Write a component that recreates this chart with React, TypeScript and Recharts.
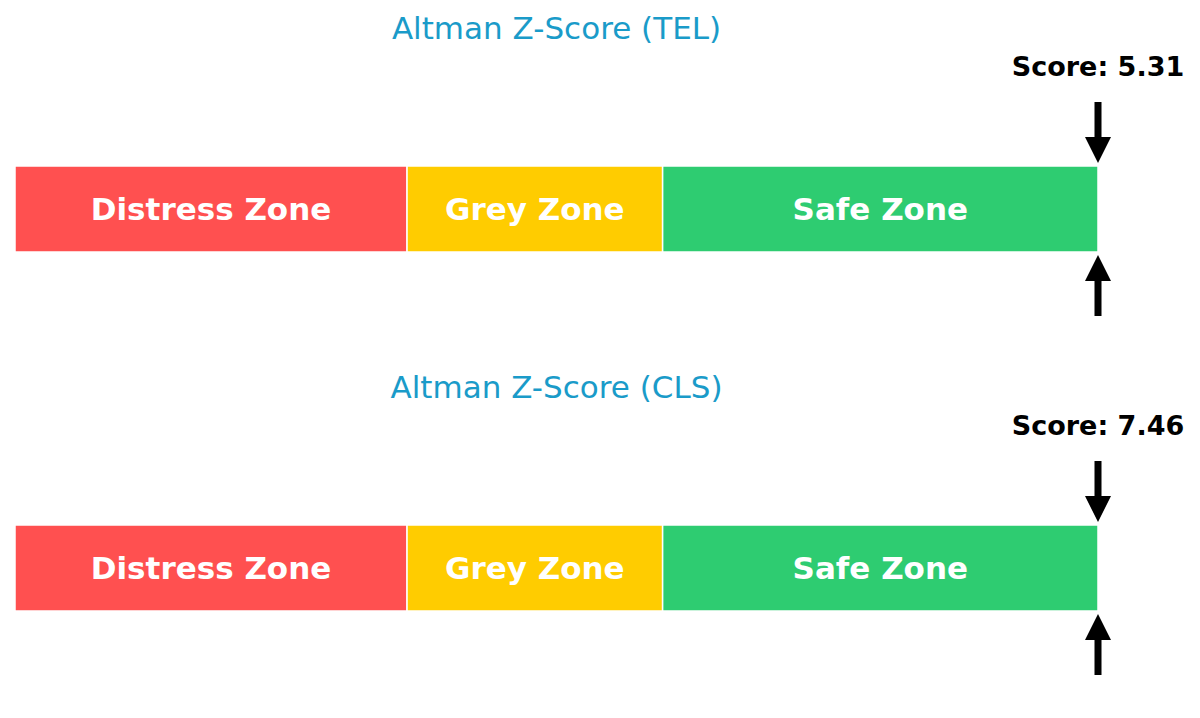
import React from 'react';
import { BarChart, Bar, XAxis, YAxis, LabelList, ReferenceDot } from 'recharts';

const companies = ['TEL', 'CLS'];
const scores = [5.31, 7.46];
const zoneNames = ['Distress Zone', 'Grey Zone', 'Safe Zone'];
const zoneBounds = [0, 1.81, 2.99, 5];
const zoneColors = ['#ff5050', '#ffcc00', '#2ecc71'];
const titleColor = '#1a9bc9';

const FONT = '"DejaVu Sans", sans-serif';
const W = 1200;
const H = 359;
const LEFT = 15;
const RIGHT = 102;
const BAR_TOP = 166;
const BAR_H = 86;
const PAD = 20;

const zoneKeys = ['z0', 'z1', 'z2'];

function buildRow(name: string) {
  const row: any = { name };
  zoneKeys.forEach((k, i) => {
    row[k] = zoneBounds[i + 1] - zoneBounds[i];
  });
  return row;
}

const zoneLabel = (text: string) => (props: any) => {
  const { x, y, width, height } = props;
  return (
    <text
      x={x + width / 2}
      y={y + height / 2}
      textAnchor="middle"
      dominantBaseline="central"
      fill="#ffffff"
      fontFamily={FONT}
      fontWeight="bold"
      fontSize={31}
    >
      {text}
    </text>
  );
};

const arrowShape = (score: number) => (props: any) => {
  const { cx, cy } = props;
  const half = BAR_H / 2;
  const headW = 13;
  const headL = 26;
  const shaft = 3.5;
  const downTip = cy - half - 3;
  const downTail = downTip - 61;
  const upTip = cy + half + 3;
  const upTail = upTip + 61;
  return (
    <g>
      <text
        x={cx}
        y={cy - 143}
        textAnchor="middle"
        dominantBaseline="central"
        fill="#000"
        fontFamily={FONT}
        fontWeight="bold"
        fontSize={27}
      >
        {`Score: ${score.toFixed(2)}`}
      </text>
      <polygon
        fill="#000"
        points={`${cx - shaft},${downTail} ${cx + shaft},${downTail} ${cx + shaft},${downTip - headL} ${cx + headW},${downTip - headL} ${cx},${downTip} ${cx - headW},${downTip - headL} ${cx - shaft},${downTip - headL}`}
      />
      <polygon
        fill="#000"
        points={`${cx - shaft},${upTail} ${cx + shaft},${upTail} ${cx + shaft},${upTip + headL} ${cx + headW},${upTip + headL} ${cx},${upTip} ${cx - headW},${upTip + headL} ${cx - shaft},${upTip + headL}`}
      />
    </g>
  );
};

function Panel({ company, score }: { company: string; score: number }) {
  const data = [buildRow(company)];
  const maxX = zoneBounds[zoneBounds.length - 1];
  return (
    <div style={{ position: 'relative', width: W, height: H }}>
      <div
        style={{
          position: 'absolute',
          left: LEFT,
          width: W - LEFT - RIGHT,
          top: 10,
          textAlign: 'center',
          fontFamily: FONT,
          fontSize: 31,
          color: titleColor,
          lineHeight: '36px',
        }}
      >
        {`Altman Z-Score (${company})`}
      </div>
      <BarChart
        width={W}
        height={H}
        data={data}
        layout="vertical"
        margin={{ top: BAR_TOP - PAD, bottom: H - BAR_TOP - BAR_H - PAD, left: LEFT, right: RIGHT }}
        barCategoryGap="0%"
        style={{ position: 'absolute', left: 0, top: 0 }}
      >
        <XAxis type="number" domain={[0, maxX]} hide allowDataOverflow />
        <YAxis type="category" dataKey="name" hide />
        {zoneKeys.map((k, i) => (
          <Bar
            key={k}
            dataKey={k}
            stackId="z"
            fill={zoneColors[i]}
            stroke="#ffffff"
            strokeWidth={1.5}
            barSize={BAR_H}
            isAnimationActive={false}
          >
            <LabelList dataKey={k} content={zoneLabel(zoneNames[i])} />
          </Bar>
        ))}
        <ReferenceDot
          x={Math.min(score, maxX)}
          y={company}
          r={0}
          ifOverflow="visible"
          shape={arrowShape(score)}
        />
      </BarChart>
    </div>
  );
}

export default function App() {
  return (
    <div style={{ position: 'absolute', left: 0, top: 0, width: W, height: 718, background: '#fff' }}>
      {companies.map((c, i) => (
        <Panel key={c} company={c} score={scores[i]} />
      ))}
    </div>
  );
}
